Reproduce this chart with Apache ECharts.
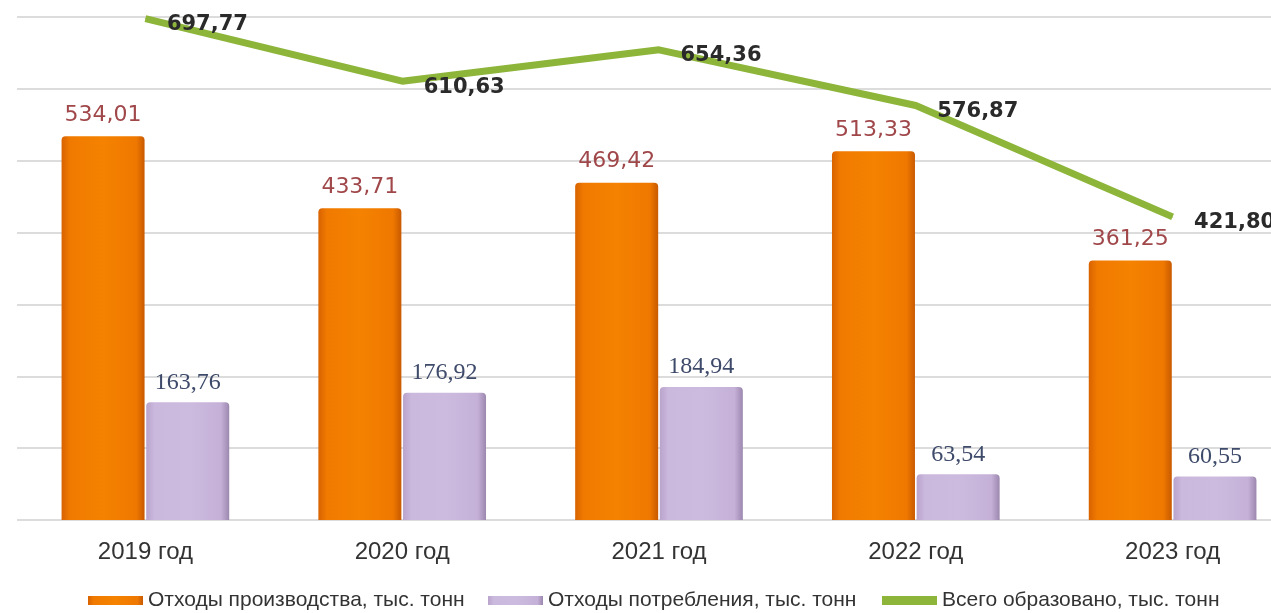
<!DOCTYPE html>
<html><head><meta charset="utf-8">
<script src="https://cdn.jsdelivr.net/npm/echarts@6/dist/echarts.min.js"></script>
<style>html,body{margin:0;padding:0;background:#fff}#c{width:1271px;height:613px}</style>
</head><body><div id="c"></div>
<script>
const categories = ['2019 год','2020 год','2021 год','2022 год','2023 год'];
const production = [534.01, 433.71, 469.42, 513.33, 361.25];
const consumption = [163.76, 176.92, 184.94, 63.54, 60.55];
const total = [697.77, 610.63, 654.36, 576.87, 421.80];
const seriesNames = ['Отходы производства, тыс. тонн','Отходы потребления, тыс. тонн','Всего образовано, тыс. тонн'];

const fmt = v => v.toFixed(2).replace('.', ',');
const orangeGrad = new echarts.graphic.LinearGradient(0,0,1,0,[
  {offset:0,color:'#d86200'},{offset:0.1,color:'#f07a00'},{offset:0.5,color:'#f58200'},{offset:0.9,color:'#ef7800'},{offset:1,color:'#c85a00'}]);
const purpleGrad = new echarts.graphic.LinearGradient(0,0,1,0,[
  {offset:0,color:'#b9a4cc'},{offset:0.1,color:'#cbb8dd'},{offset:0.5,color:'#cdbbdf'},{offset:0.9,color:'#c5b1d8'},{offset:1,color:'#9c88ae'}]);

const legendText = {color:'#333', fontFamily:'Liberation Sans', fontSize:21};
const chart = echarts.init(document.getElementById('c'));
chart.setOption({
  animation:false,
  grid:{left:17, top:17, right:-30, height:503, outerBoundsMode:'none', containLabel:false},
  xAxis:{type:'category', data:categories,
    axisLine:{show:false}, axisTick:{show:false},
    axisLabel:{color:'#333', fontFamily:'Liberation Sans', fontSize:24, margin:20}},
  yAxis:{type:'value', min:0, max:700, interval:100,
    axisLabel:{show:false}, axisLine:{show:false}, axisTick:{show:false},
    splitLine:{lineStyle:{color:'#dcdcdc', width:2}}},
  legend:[
    {data:[{name:seriesNames[0], icon:'rect'}], left:83, top:585, itemWidth:55, itemHeight:9, itemGap:4, textStyle:legendText},
    {data:[{name:seriesNames[1], icon:'rect'}], left:483, top:585, itemWidth:55, itemHeight:9, textStyle:legendText},
    {data:[{name:seriesNames[2], icon:'rect'}], left:877, top:585, itemWidth:55, itemHeight:9, textStyle:legendText}
  ],
  series:[
    {name:seriesNames[0], type:'bar', data:production, barWidth:83, barGap:'2%',
      itemStyle:{color:orangeGrad, borderRadius:[4,4,0,0]},
      label:{show:true, position:'top', distance:10, formatter:p=>fmt(p.value),
        color:'#a0474a', fontFamily:'DejaVu Sans', fontSize:22}},
    {name:seriesNames[1], type:'bar', data:consumption, barWidth:83,
      itemStyle:{color:purpleGrad, borderRadius:[4,4,0,0]},
      label:{show:true, position:'top', distance:8, formatter:p=>fmt(p.value),
        color:'#3e4a6a', fontFamily:'Liberation Serif', fontSize:24}},
    {name:seriesNames[2], type:'line', data:total, symbol:'circle', symbolSize:1, showSymbol:true, z:5,
      lineStyle:{color:'#8db53a', width:7},
      itemStyle:{color:'#8db53a'},
      label:{show:true, position:'right', distance:21, offset:[0,6], formatter:p=>fmt(p.value),
        color:'#2a2a2a', fontFamily:'DejaVu Sans', fontWeight:'bold', fontSize:21}}
  ]
});
</script></body></html>
